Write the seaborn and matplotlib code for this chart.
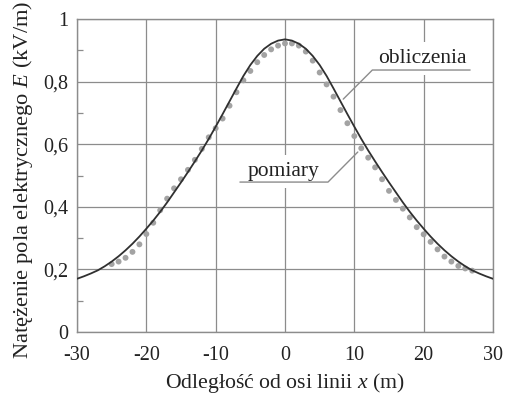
import matplotlib
matplotlib.use("Agg")
import matplotlib.pyplot as plt
import seaborn as sns
import pandas as pd
from matplotlib.ticker import FixedLocator

# ---- data ----
x_calc = [-30, -29, -28, -27, -26, -25, -24, -23, -22, -21, -20, -19, -18, -17, -16, -15,
          -14, -13, -12, -11, -10, -9, -8, -7, -6, -5, -4, -3, -2, -1, 0,
          1, 2, 3, 4, 5, 6, 7, 8, 9, 10, 11, 12, 13, 14, 15,
          16, 17, 18, 19, 20, 21, 22, 23, 24, 25, 26, 27, 28, 29, 30]
e_calc = [0.170, 0.178, 0.187, 0.197, 0.210, 0.225, 0.242, 0.261, 0.282, 0.305, 0.330,
          0.356, 0.384, 0.414, 0.446, 0.478, 0.511, 0.545, 0.580, 0.617, 0.656, 0.696,
          0.737, 0.778, 0.818, 0.853, 0.882, 0.905, 0.921, 0.931, 0.935,
          0.931, 0.921, 0.905, 0.882, 0.853, 0.818, 0.778, 0.737, 0.696, 0.656, 0.617,
          0.580, 0.545, 0.511, 0.478, 0.446, 0.414, 0.384, 0.356, 0.330, 0.305, 0.282,
          0.261, 0.242, 0.225, 0.210, 0.197, 0.187, 0.178, 0.170]

x_meas = [-25, -24, -23, -22, -21, -20, -19, -18, -17, -16, -15, -14, -13, -12, -11, -10,
          -9, -8, -7, -6, -5, -4, -3, -2, -1, 0, 1, 2, 3, 4, 5, 6, 7, 8, 9, 10,
          11, 12, 13, 14, 15, 16, 17, 18, 19, 20, 21, 22, 23, 24, 25, 26, 27]
e_meas = [0.217, 0.225, 0.237, 0.256, 0.280, 0.313, 0.349, 0.389, 0.426, 0.459, 0.488,
          0.518, 0.550, 0.585, 0.622, 0.651, 0.682, 0.723, 0.766, 0.804, 0.834, 0.862,
          0.885, 0.903, 0.915, 0.922, 0.922, 0.915, 0.896, 0.867, 0.829, 0.791, 0.752,
          0.709, 0.667, 0.626, 0.587, 0.557, 0.526, 0.488, 0.451, 0.422, 0.394, 0.366,
          0.335, 0.312, 0.288, 0.264, 0.241, 0.225, 0.211, 0.203, 0.196]

x_ticks = [-30, -20, -10, 0, 10, 20, 30]
x_tick_labels = ["-30", "-20", "-10", "0", "10", "20", "30"]
y_ticks = [0, 0.2, 0.4, 0.6, 0.8, 1.0]
y_tick_labels = ["0", "0,2", "0,4", "0,6", "0,8", "1"]
y_minor = [0.1, 0.3, 0.5, 0.7, 0.9]

label_calc = "obliczenia"
label_meas = "pomiary"
x_label = "Odległość od osi linii $x$ (m)"
y_label = "Natężenie pola elektrycznego $E$ (kV/m)"

df_calc = pd.DataFrame({"x": x_calc, "E": e_calc})
df_meas = pd.DataFrame({"x": x_meas, "E": e_meas})

# ---- style ----
sns.set_style("white")
plt.rcParams["font.family"] = ["Liberation Serif", "DejaVu Serif"]
plt.rcParams["mathtext.fontset"] = "custom"
plt.rcParams["mathtext.it"] = "Liberation Serif:italic"
plt.rcParams["mathtext.rm"] = "Liberation Serif"

grid_c = "#8c8c8c"
text_c = "#222222"
fig = plt.figure(figsize=(5.09, 3.95), dpi=100)
ax = fig.add_axes([77 / 509, 63 / 395, 416 / 509, 313 / 395])

sns.scatterplot(data=df_meas, x="x", y="E", ax=ax, color="#a3a3a3", s=18,
                edgecolor="none", zorder=3, legend=False)
sns.lineplot(data=df_calc, x="x", y="E", ax=ax, color="#303030", lw=1.3,
             zorder=4, legend=False)

ax.set_xlim(-30, 30)
ax.set_ylim(0, 1)
ax.set_xticks(x_ticks)
ax.set_xticklabels(x_tick_labels)
ax.set_yticks(y_ticks)
ax.set_yticklabels(y_tick_labels)
ax.yaxis.set_minor_locator(FixedLocator(y_minor))
ax.tick_params(axis="both", which="major", length=0, labelsize=14.5,
               colors=text_c)
ax.tick_params(axis="x", which="major", pad=10)
ax.tick_params(axis="y", which="major", pad=6)
ax.tick_params(axis="y", which="minor", direction="in", length=4,
               width=0.9, color=grid_c, left=True)
ax.grid(True, which="major", color=grid_c, lw=0.9)
for s in ax.spines.values():
    s.set_color(grid_c)
    s.set_linewidth(1.0)

ax.set_xlabel(x_label, fontsize=15.7, color=text_c)
ax.xaxis.label.set_va("center")
ax.xaxis.set_label_coords(0.5, -0.163)
ax.set_ylabel(y_label, fontsize=16.2, color=text_c)
ax.yaxis.label.set_va("center")
ax.yaxis.set_label_coords(-0.13, 0.486)

# annotations
ax.text(19.8, 0.859, label_calc, fontsize=15.5, ha="center", va="baseline",
        color=text_c, zorder=2,
        bbox=dict(facecolor="white", edgecolor="none", pad=5))
ax.plot([26.7, 12.6, 8.4], [0.837, 0.837, 0.744], color=grid_c, lw=1.0, zorder=5)

ax.text(-0.2, 0.498, label_meas, fontsize=15.5, ha="center", va="baseline",
        color=text_c, zorder=2,
        bbox=dict(facecolor="white", edgecolor="none", pad=5))
ax.plot([-6.5, 6.2, 10.5], [0.479, 0.479, 0.575], color=grid_c, lw=1.0, zorder=5)

fig.savefig("out.png", dpi=100)
